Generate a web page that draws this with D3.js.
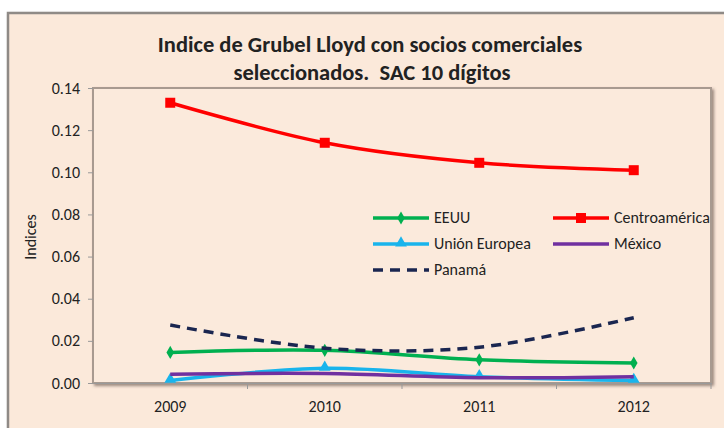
<!DOCTYPE html>
<html>
<head>
<meta charset="utf-8">
<script src="https://cdn.jsdelivr.net/npm/d3@7"></script>
<style>
  body { margin: 0; background: #fff; }
  svg { display: block; }
  text { font-family: Carlito, "Liberation Sans Narrow", "Liberation Sans", sans-serif; fill: #222; }
</style>
</head>
<body>
<script>
// Indice de Grubel Lloyd, socios comerciales

var years = ["2009", "2010", "2011", "2012"];
var eeuu = [0.0145, 0.0155, 0.011, 0.0095];
var centroamerica = [0.133, 0.114, 0.1045, 0.101];
var unionEuropea = [0.0012, 0.007, 0.003, 0.0012];
var mexico = [0.0042, 0.0045, 0.0025, 0.003];
var panama = [0.0275, 0.0165, 0.017, 0.031];
var yTicks = [0, 0.02, 0.04, 0.06, 0.08, 0.10, 0.12, 0.14];

var series = [
  {name: "EEUU", values: eeuu, color: "#00b050", marker: "diamond", dash: null},
  {name: "Centroamérica", values: centroamerica, color: "#ff0000", marker: "square", dash: null},
  {name: "Unión Europea", values: unionEuropea, color: "#19b4ec", marker: "triangle", dash: null},
  {name: "México", values: mexico, color: "#7030a0", marker: null, dash: null},
  {name: "Panamá", values: panama, color: "#1a2650", marker: null, dash: "10,7"}
];

var width = 724;
var height = 428;
var plotL = 93, plotR = 711, plotT = 88, plotB = 383;

var svg = d3.select("body")
    .append("svg")
        .attr("width", width)
        .attr("height", height);

var defs = svg.append("defs");
var f = defs.append("filter").attr("id", "shadow")
    .attr("x", "-5%").attr("y", "-5%").attr("width", "110%").attr("height", "110%");
f.append("feDropShadow")
    .attr("dx", 2).attr("dy", 2).attr("stdDeviation", 1.5)
    .attr("flood-color", "#5a4a40").attr("flood-opacity", 0.6);

// outer chart frame
svg.append("rect")
    .attr("x", 8).attr("y", 13)
    .attr("width", 730).attr("height", 430)
    .attr("fill", "#fbe9da")
    .attr("stroke", "#8f8a86")
    .attr("stroke-width", 2.5)
    .attr("filter", "url(#shadow)");

// plot area
svg.append("rect")
    .attr("x", plotL).attr("y", plotT)
    .attr("width", plotR - plotL).attr("height", plotB - plotT)
    .attr("fill", "#fbeadc")
    .attr("stroke", "#a89a90")
    .attr("stroke-width", 2)
    .attr("filter", "url(#shadow)");

var x = d3.scaleBand()
    .domain(years)
    .range([plotL, plotR]);

var y = d3.scaleLinear()
    .domain([0, 0.14])
    .range([plotB, plotT]);

// y axis
var yAxis = svg.append("g")
    .attr("transform", "translate(" + plotL + ",0)")
    .call(d3.axisLeft(y).tickValues(yTicks).tickFormat(d3.format(".2f")).tickSizeOuter(0).tickSize(5).tickPadding(8));
yAxis.select(".domain").remove();
yAxis.selectAll("line").attr("stroke", "#999");
yAxis.selectAll("text").style("font-size", "16px").attr("fill", "#222");

// x axis
var xAxis = svg.append("g")
    .attr("transform", "translate(0," + plotB + ")")
    .call(d3.axisBottom(x).tickSize(0).tickPadding(18));
xAxis.select(".domain").attr("stroke", "#999");
xAxis.selectAll("text").style("font-size", "16px").attr("fill", "#222");
xAxis.selectAll(".sep")
    .data(years.slice(1).concat(["end"]))
    .enter().append("line")
    .attr("class", "sep")
    .attr("x1", function(d, i) { return x(years[0]) + x.step() * (i + 1); })
    .attr("x2", function(d, i) { return x(years[0]) + x.step() * (i + 1); })
    .attr("y1", 0).attr("y2", 6)
    .attr("stroke", "#999");

var line = d3.line()
    .curve(d3.curveCatmullRom.alpha(0.5))
    .x(function(d, i) { return x(years[i]) + x.bandwidth() / 2; })
    .y(function(d) { return y(d); });

function drawMarker(g, type, color, cx, cy) {
  if (type === "square") {
    g.append("rect").attr("x", cx - 5).attr("y", cy - 5).attr("width", 10).attr("height", 10).attr("fill", color);
  } else if (type === "diamond") {
    g.append("path").attr("d", d3.symbol(d3.symbolDiamond, 50)()).attr("transform", "translate(" + cx + "," + cy + ")").attr("fill", color);
  } else if (type === "triangle") {
    g.append("path").attr("d", d3.symbol(d3.symbolTriangle, 60)()).attr("transform", "translate(" + cx + "," + (cy - 1) + ")").attr("fill", color);
  }
}

series.forEach(function(s) {
  var g = svg.append("g");
  g.append("path")
      .datum(s.values)
      .attr("fill", "none")
      .attr("stroke", s.color)
      .attr("stroke-width", 3.5)
      .attr("stroke-dasharray", s.dash)
      .attr("d", line);
  if (s.marker) {
    s.values.forEach(function(v, i) {
      drawMarker(g, s.marker, s.color, x(years[i]) + x.bandwidth() / 2, y(v));
    });
  }
});

// legend
var legendPos = [[373, 218], [553, 218], [373, 244], [553, 244], [373, 270]];
series.forEach(function(s, i) {
  var lg = svg.append("g");
  var p = legendPos[i];
  lg.append("line")
      .attr("x1", p[0]).attr("x2", p[0] + 56)
      .attr("y1", p[1]).attr("y2", p[1])
      .attr("stroke", s.color)
      .attr("stroke-width", 3.5)
      .attr("stroke-dasharray", s.dash);
  if (s.marker) drawMarker(lg, s.marker, s.color, p[0] + 28, p[1]);
  lg.append("text")
      .attr("x", p[0] + 61).attr("y", p[1] + 5)
      .style("font-size", "16px")
      .text(s.name);
});

// title
svg.append("text")
    .attr("x", 370).attr("y", 52)
    .attr("text-anchor", "middle")
    .style("font-size", "22.5px").style("font-weight", "bold")
    .text("Indice de Grubel Lloyd con socios comerciales");
svg.append("text")
    .attr("x", 372).attr("y", 80)
    .attr("text-anchor", "middle")
    .style("font-size", "22.5px").style("font-weight", "bold")
    .style("white-space", "pre")
    .text("seleccionados.  SAC 10 dígitos");

// y label
svg.append("text")
    .attr("transform", "translate(36,237) rotate(-90)")
    .attr("text-anchor", "middle")
    .style("font-size", "16px")
    .text("Indices");
</script>
</body>
</html>
